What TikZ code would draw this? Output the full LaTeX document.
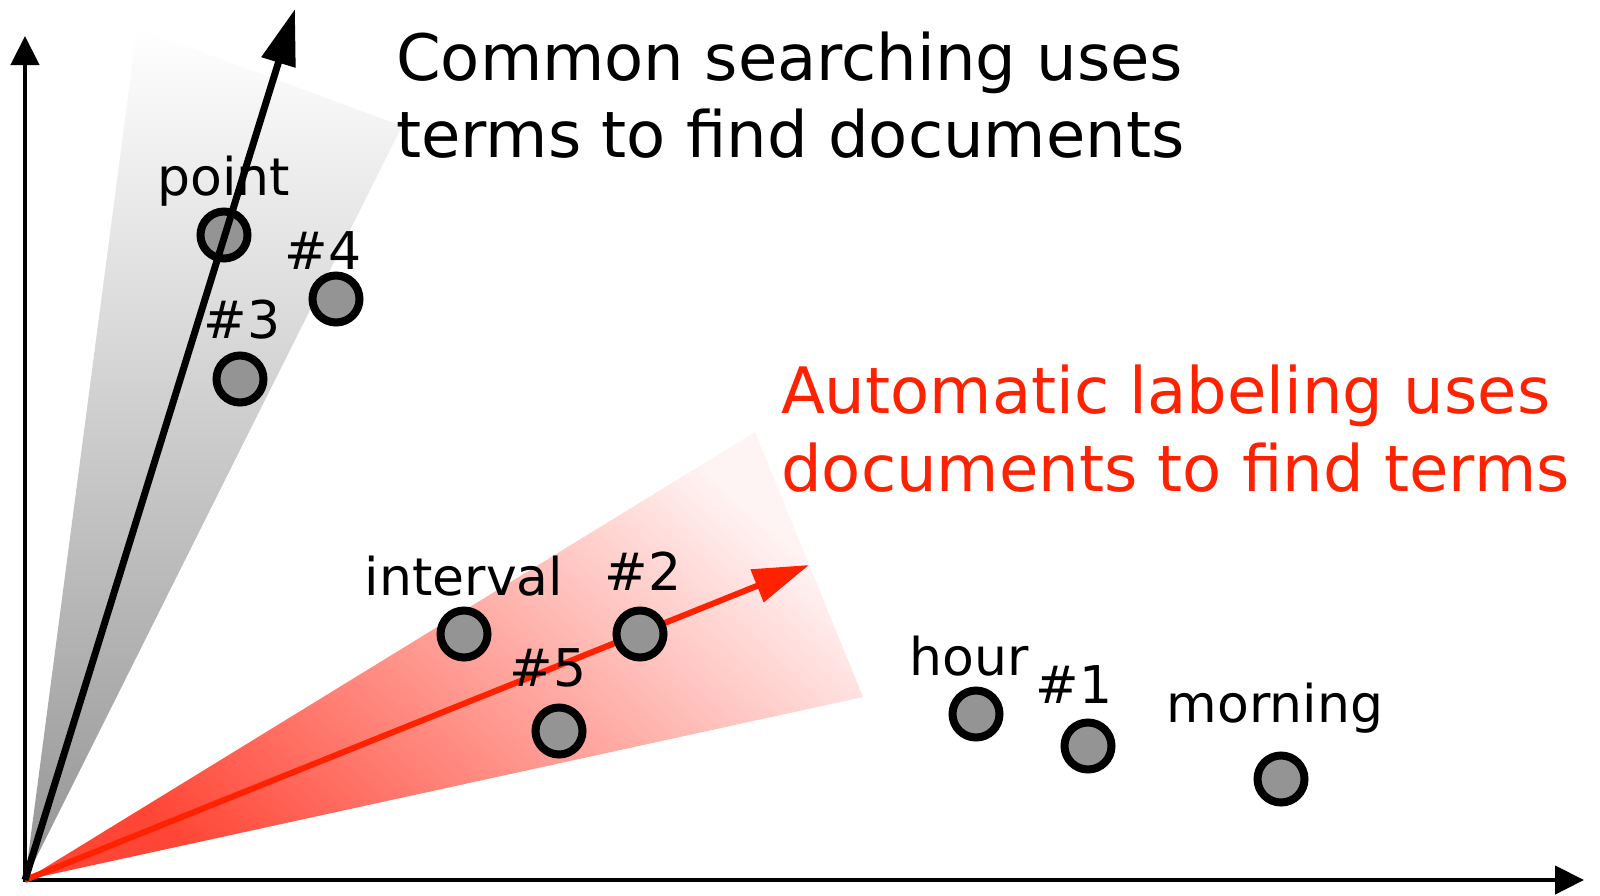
\documentclass[tikz,border=0pt]{standalone}
\usepackage{fontspec}
\setmainfont{DejaVu Sans}
\usetikzlibrary{arrows.meta}
\definecolor{hotred}{HTML}{FF2200}
\definecolor{wedgered}{HTML}{FF4535}
\definecolor{wedgepink}{HTML}{FFF4F4}
\definecolor{dotgray}{HTML}{949494}
\tikzset{
  dot/.style={circle, draw=black, fill=dotgray, line width=8pt, minimum size=47pt, inner sep=0pt},
  lbl/.style={font=\fontsize{52}{62}\selectfont, inner sep=0pt, anchor=base},
  big/.style={font=\fontsize{64}{77}\selectfont, inner sep=0pt, anchor=base west},
  axis/.style={line width=4.5pt, -{Triangle[length=29pt,width=28pt]}},
  vec/.style={line width=7pt, -{Triangle[length=56pt,width=34pt]}}
}
\begin{document}
\begin{tikzpicture}[x=1pt,y=-1pt]
\useasboundingbox (0,0) rectangle (1600,895);
% wedges
\coordinate (O) at (25,880);
\shade[top color=white, bottom color=black!42] (O) -- (137,28) -- (402,126) -- cycle;
\shade[top color=wedgepink, bottom color=wedgered, shading angle=-42] (O) -- (755,432) -- (863,697) -- cycle;
% axes
\coordinate (ytip) at (25,36);
\coordinate (xtip) at (1584,880);
\draw[axis] (25,882) -- (ytip);
\draw[axis] (23,880) -- (xtip);
% red vector
\coordinate (rtip) at (809,565);
\draw[vec, hotred, line width=6pt] (O) -- (rtip);
% points
\node[dot] (point) at (224,235) {};
\node[dot] (d4) at (336,299) {};
\node[dot] (d3) at (240,379) {};
\node[dot] (interval) at (464,634) {};
\node[dot] (d2) at (640,634) {};
\node[dot] (d5) at (559,731) {};
\node[dot] (hour) at (976,714) {};
\node[dot] (d1) at (1088,746) {};
\node[dot] (morning) at (1281,779) {};
% black vector
\coordinate (btip) at (295,9);
\draw[vec] (O) -- (btip);
% labels
\node[lbl] (lpoint) at (224,195) {point};
\node[lbl] (l4) at (323,269) {\#4};
\node[lbl] (l3) at (242,338) {\#3};
\node[lbl] (linterval) at (464,595) {interval};
\node[lbl] (l2) at (643,590) {\#2};
\node[lbl] (l5) at (548,686) {\#5};
\node[lbl] (lhour) at (969,675) {hour};
\node[lbl] (l1) at (1074,703) {\#1};
\node[lbl] (lmorning) at (1275,722) {morning};
% titles
\node[big] (t1a) at (396,80) {Common searching uses};
\node[big] (t1b) at (396,157) {terms to find documents};
\node[big, text=hotred] (t2a) at (781,413) {Automatic labeling uses};
\node[big, text=hotred] (t2b) at (781,491) {documents to find terms};
\end{tikzpicture}
\end{document}
